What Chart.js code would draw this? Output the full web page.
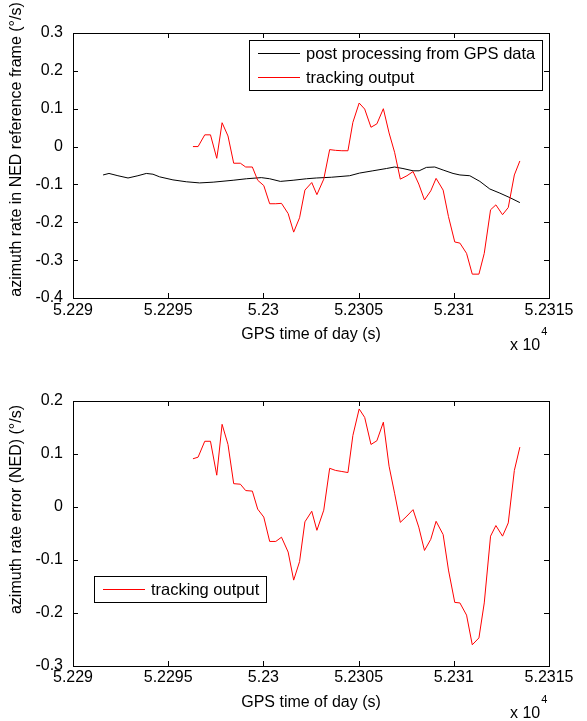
<!DOCTYPE html>
<html>
<head>
<meta charset="utf-8">
<script src="https://cdn.jsdelivr.net/npm/chart.js@4.4.1/dist/chart.umd.min.js"></script>
<style>
  body { margin: 0; background: #fff; }
  #wrap { position: relative; width: 587px; height: 721px; }
  canvas { position: absolute; left: 0; }
</style>
</head>
<body>
<div id="wrap">
  <canvas id="rateChart" width="587" height="360" style="top:0"></canvas>
  <canvas id="errorChart" width="587" height="361" style="top:360px"></canvas>
</div>
<script>
// GPS time of day (s) of each tracking output sample
var trackTime = [52296.30, 52296.57, 52296.92, 52297.22, 52297.55, 52297.83, 52298.14, 52298.44,
  52298.79, 52299.07, 52299.42, 52299.70, 52300.02, 52300.33, 52300.65, 52300.95, 52301.30,
  52301.59, 52301.90, 52302.18, 52302.54, 52302.81, 52303.17, 52303.48, 52303.79, 52304.12,
  52304.44, 52304.70, 52305.03, 52305.32, 52305.65, 52305.96, 52306.30, 52306.60, 52306.89,
  52307.19, 52307.54, 52307.86, 52308.16, 52308.46, 52308.79, 52309.07, 52309.44, 52309.72,
  52310.05, 52310.32, 52310.67, 52310.97, 52311.32, 52311.60, 52311.93, 52312.21, 52312.56,
  52312.86, 52313.18, 52313.47];

// azimuth rate from the tracking output (deg/s)
var trackRate = [0, 0, 0.031, 0.031, -0.031, 0.063, 0.028, -0.044, -0.044, -0.054, -0.054,
  -0.089, -0.103, -0.151, -0.151, -0.150, -0.177, -0.226, -0.188, -0.115, -0.095, -0.127,
  -0.086, -0.008, -0.010, -0.011, -0.011, 0.064, 0.115, 0.099, 0.051, 0.060, 0.100, 0.036,
  -0.015, -0.086, -0.077, -0.066, -0.099, -0.141, -0.117, -0.084, -0.115, -0.185, -0.252,
  -0.255, -0.282, -0.337, -0.337, -0.282, -0.167, -0.154, -0.180, -0.161, -0.075, -0.038];

// azimuth rate error of the tracking output (deg/s)
var trackError = [0.091, 0.094, 0.124, 0.124, 0.060, 0.156, 0.118, 0.044, 0.043, 0.031, 0.030,
  -0.004, -0.019, -0.065, -0.065, -0.057, -0.085, -0.138, -0.103, -0.028, -0.008, -0.044,
  -0.006, 0.073, 0.069, 0.067, 0.065, 0.135, 0.185, 0.169, 0.118, 0.125, 0.160, 0.077,
  0.026, -0.029, -0.017, -0.005, -0.038, -0.082, -0.061, -0.027, -0.052, -0.119, -0.180,
  -0.181, -0.204, -0.260, -0.247, -0.181, -0.055, -0.035, -0.055, -0.030, 0.069, 0.113];

// post processing from GPS data
var postTime = [52291.58, 52291.89, 52292.36, 52292.89, 52293.41, 52293.85, 52294.20, 52294.55,
  52295.25, 52295.95, 52296.65, 52297.36, 52298.41, 52299.11, 52299.89, 52300.33, 52300.89,
  52301.56, 52302.26, 52302.78, 52303.57, 52304.53, 52305.05, 52305.75, 52306.46, 52306.89,
  52307.33, 52307.86, 52308.18, 52308.56, 52309.00, 52309.44, 52309.96, 52310.32, 52310.84,
  52311.37, 52311.89, 52312.42, 52312.95, 52313.47];
var postRate = [-0.075, -0.071, -0.077, -0.083, -0.077, -0.071, -0.073, -0.080, -0.088, -0.093,
  -0.096, -0.094, -0.089, -0.085, -0.082, -0.085, -0.092, -0.089, -0.085, -0.083, -0.081,
  -0.077, -0.070, -0.064, -0.058, -0.054, -0.058, -0.064, -0.064, -0.055, -0.054, -0.062,
  -0.071, -0.075, -0.077, -0.092, -0.112, -0.123, -0.135, -0.148];

var timeRange = [52290, 52315];
var rateRange = [-0.4, 0.3];
var errorRange = [-0.3, 0.2];

var FONT = '"Liberation Sans", Arial, Helvetica, sans-serif';

function points(xs, ys) {
  return xs.map(function(x, i) { return { x: x, y: ys[i] }; });
}

// matlab look: boxed axes, inward ticks, axis labels, x10^4 and a boxed legend
var matlabAxes = {
  id: 'matlabAxes',
  afterDatasetsDraw: function(chart, args, opts) {
    var ctx = chart.ctx, a = chart.chartArea;
    var xs = chart.scales.x, ys = chart.scales.y;
    ctx.save();
    ctx.strokeStyle = '#000';
    ctx.lineWidth = 1;
    ctx.beginPath();
    xs.ticks.forEach(function(t) {
      var px = Math.round(xs.getPixelForValue(t.value)) + 0.5;
      ctx.moveTo(px, a.bottom); ctx.lineTo(px, a.bottom - 5);
      ctx.moveTo(px, a.top); ctx.lineTo(px, a.top + 5);
    });
    ys.ticks.forEach(function(t) {
      var py = Math.round(ys.getPixelForValue(t.value)) + 0.5;
      ctx.moveTo(a.left, py); ctx.lineTo(a.left + 5, py);
      ctx.moveTo(a.right, py); ctx.lineTo(a.right - 5, py);
    });
    ctx.stroke();
    ctx.strokeRect(a.left + 0.5, a.top + 0.5, a.right - a.left, a.bottom - a.top);

    ctx.fillStyle = '#000';
    ctx.font = '16px ' + FONT;

    // x axis label
    ctx.textAlign = 'center';
    ctx.textBaseline = 'alphabetic';
    ctx.fillText(opts.xTitle, (a.left + a.right) / 2, a.bottom + 41);

    // x 10^4
    ctx.textAlign = 'left';
    ctx.fillText('x 10', a.right - 39, a.bottom + 52);
    var w = ctx.measureText('x 10').width;
    ctx.font = '11px ' + FONT;
    ctx.fillText('4', a.right - 39 + w + 1, a.bottom + 37);

    // y axis label
    ctx.save();
    ctx.font = '16px ' + FONT;
    ctx.translate(17, (a.top + a.bottom) / 2 + opts.yTitleShift);
    ctx.rotate(-Math.PI / 2);
    ctx.textAlign = 'center';
    ctx.textBaseline = 'middle';
    ctx.fillText(opts.yTitle, 0, 0);
    ctx.restore();

    // legend
    var sets = chart.data.datasets;
    ctx.font = '16.5px ' + FONT;
    var tw = 0;
    sets.forEach(function(d) { tw = Math.max(tw, ctx.measureText(d.label).width); });
    var bw = Math.round(57 + tw + 7), bh = sets.length * 24 + 2;
    var L = opts.legend;
    var bx = L.left !== undefined ? a.left + L.left : a.right - L.right - bw;
    var by = L.top !== undefined ? a.top + L.top : a.bottom - L.bottom - bh;
    ctx.fillStyle = '#fff';
    ctx.fillRect(bx, by, bw, bh);
    ctx.strokeStyle = '#000';
    ctx.strokeRect(bx + 0.5, by + 0.5, bw, bh);
    ctx.textAlign = 'left';
    ctx.textBaseline = 'middle';
    sets.forEach(function(d, i) {
      var ly = Math.round(by + 13 + i * 24) + 0.5;
      ctx.strokeStyle = d.borderColor;
      ctx.beginPath();
      ctx.moveTo(bx + 9, ly); ctx.lineTo(bx + 51, ly);
      ctx.stroke();
      ctx.fillStyle = '#000';
      ctx.fillText(d.label, bx + 57, ly + 1);
    });
    ctx.restore();
  }
};

function makeOptions(yRange, padTop, xHeight, xPad, deco) {
  return {
    responsive: false,
    animation: false,
    events: [],
    layout: { padding: { left: 0, top: padTop, right: 38, bottom: 0 } },
    plugins: {
      legend: { display: false },
      title: { display: false },
      tooltip: { enabled: false },
      matlabAxes: deco
    },
    scales: {
      x: {
        type: 'linear',
        min: timeRange[0],
        max: timeRange[1],
        grid: { display: false, drawTicks: false },
        border: { display: false },
        afterFit: function(s) { s.height = xHeight; },
        ticks: {
          stepSize: 5,
          autoSkip: false,
          maxRotation: 0,
          padding: xPad,
          color: '#000',
          font: { family: FONT, size: 16 },
          callback: function(v) { return String(v / 10000); }
        }
      },
      y: {
        min: yRange[0],
        max: yRange[1],
        grid: { display: false, drawTicks: false },
        border: { display: false },
        afterFit: function(s) { s.width = 73; },
        ticks: {
          stepSize: 0.1,
          padding: 10,
          color: '#000',
          font: { family: FONT, size: 16 },
          callback: function(v) { return String(parseFloat(v.toFixed(2))); }
        }
      }
    }
  };
}

new Chart(document.getElementById('rateChart'), {
  type: 'line',
  data: {
    datasets: [{
      label: 'post processing from GPS data',
      data: points(postTime, postRate),
      borderColor: '#000000',
      borderWidth: 1,
      pointRadius: 0,
      tension: 0
    }, {
      label: 'tracking output',
      data: points(trackTime, trackRate),
      borderColor: '#ff0000',
      borderWidth: 1,
      pointRadius: 0,
      tension: 0,
      order: -1
    }]
  },
  options: makeOptions(rateRange, 33, 62, 3, {
    xTitle: 'GPS time of day (s)',
    yTitle: 'azimuth rate in NED reference frame (°/s)',
    yTitleShift: -16,
    legend: { right: 7, top: 7 }
  }),
  plugins: [matlabAxes]
});

new Chart(document.getElementById('errorChart'), {
  type: 'line',
  data: {
    datasets: [{
      label: 'tracking output',
      data: points(trackTime, trackError),
      borderColor: '#ff0000',
      borderWidth: 1,
      pointRadius: 0,
      tension: 0
    }]
  },
  options: makeOptions(errorRange, 41, 55, 2, {
    xTitle: 'GPS time of day (s)',
    yTitle: 'azimuth rate error (NED) (°/s)',
    yTitleShift: -24,
    legend: { left: 21, bottom: 64 }
  }),
  plugins: [matlabAxes]
});
</script>
</body>
</html>
